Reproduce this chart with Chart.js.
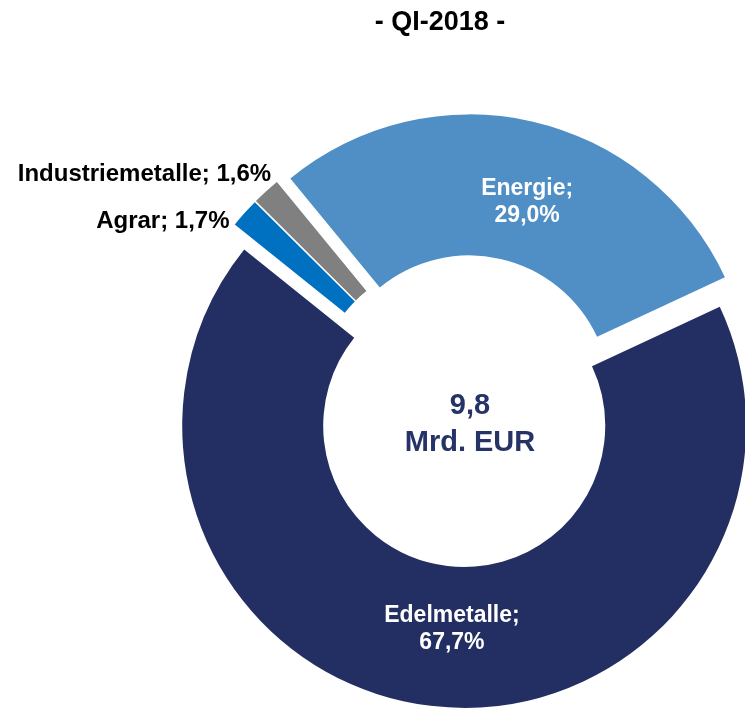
<!DOCTYPE html>
<html lang="de">
<head>
<meta charset="utf-8">
<title>Rohstoffe QI-2018</title>
<script src="https://cdn.jsdelivr.net/npm/chart.js@4.4.1/dist/chart.umd.min.js"></script>
<style>
    html, body { margin: 0; padding: 0; background: #fff; overflow: hidden; }
    #wrap { position: relative; width: 745px; height: 709px; }
</style>
</head>
<body>
<div id="wrap"><canvas id="chartRohstoffe" width="745" height="709"></canvas></div>
<script>
"use strict";

// ═══════════════════════════════════════
// DATEN
// ═══════════════════════════════════════

const titel      = "- QI-2018 -";
const categories = ["Energie", "Edelmetalle", "Agrar", "Industriemetalle"];
const anteile    = [29.0, 67.7, 1.7, 1.6];          // in %
const volumen    = ["9,8", "Mrd. EUR"];             // Text in der Mitte

// ═══════════════════════════════════════
// STIL
// ═══════════════════════════════════════

const farben     = ["#4F8FC6", "#232F62", "#0070C0", "#808080"];
const innen      = [true, true, false, false];      // Label im Ring oder außen
const labelNudge = [[11, 12], [13, -7], [-15, 8], [5, -17]];
const EXPLODE    = 15;                              // alle Segmente leicht herausgezogen
const FONT       = '"Liberation Sans", Arial, sans-serif';
const NAVY       = "#253366";

function pct(v) {
    return v.toFixed(1).replace(".", ",") + "%";
}

// Segmente einzeln verschieben (Excel-"Explosion"), ohne Radius zu ändern
const explodePlugin = {
    id: "explode",
    beforeDatasetDraw(chart, args) {
        const ctx = chart.ctx;
        args.meta.data.forEach(arc => {
            const mid = (arc.startAngle + arc.endAngle) / 2;
            ctx.save();
            ctx.translate(Math.cos(mid) * EXPLODE, Math.sin(mid) * EXPLODE);
            arc.draw(ctx);
            ctx.restore();
        });
        return false;
    }
};

// Beschriftungen, Titel und Gesamtvolumen
const textPlugin = {
    id: "texte",
    afterDraw(chart) {
        const ctx  = chart.ctx;
        const arcs = chart.getDatasetMeta(0).data;

        ctx.save();
        ctx.textBaseline = "middle";

        arcs.forEach((arc, i) => {
            const p   = arc.getProps(["x", "y", "startAngle", "endAngle", "innerRadius", "outerRadius"], true);
            const mid = (p.startAngle + p.endAngle) / 2;
            const cx  = p.x + Math.cos(mid) * EXPLODE;
            const cy  = p.y + Math.sin(mid) * EXPLODE;
            const [dx, dy] = labelNudge[i];

            if (innen[i]) {
                const r  = (p.innerRadius + p.outerRadius) / 2;
                const px = cx + Math.cos(mid) * r + dx;
                const py = cy + Math.sin(mid) * r + dy;
                ctx.font = "bold 23px " + FONT;
                ctx.fillStyle = "#ffffff";
                ctx.textAlign = "center";
                ctx.fillText(categories[i] + ";", px, py - 13.5);
                ctx.fillText(pct(anteile[i]), px, py + 13.5);
            } else {
                const px = cx + Math.cos(mid) * p.outerRadius + dx;
                const py = cy + Math.sin(mid) * p.outerRadius + dy;
                ctx.font = "bold 24px " + FONT;
                ctx.fillStyle = "#000000";
                ctx.textAlign = "right";
                ctx.fillText(categories[i] + "; " + pct(anteile[i]), px, py);
            }
        });

        // Mitte
        const m = arcs[0];
        ctx.font = "bold 29px " + FONT;
        ctx.fillStyle = NAVY;
        ctx.textAlign = "center";
        ctx.fillText(volumen[0], m.x + 4, m.y - 5);
        ctx.fillText(volumen[1], m.x + 4, m.y + 32);

        // Titel
        ctx.font = "bold 27px " + FONT;
        ctx.fillStyle = "#000000";
        ctx.fillText(titel, 440, 23);

        ctx.restore();
    }
};

new Chart(document.getElementById("chartRohstoffe"), {
    type: "doughnut",
    data: {
        labels: categories,
        datasets: [{
            data: anteile,
            backgroundColor: farben,
            borderWidth: 0,
            clip: false
        }]
    },
    options: {
        responsive: false,
        animation: false,
        events: [],
        rotation: -39.4,
        radius: 282,
        cutout: "50%",
        layout: { padding: { left: 187, right: 0, top: 113, bottom: 0 } },
        plugins: {
            legend: { display: false },
            tooltip: { enabled: false },
            title: { display: false }
        }
    },
    plugins: [explodePlugin, textPlugin]
});
</script>
</body>
</html>
